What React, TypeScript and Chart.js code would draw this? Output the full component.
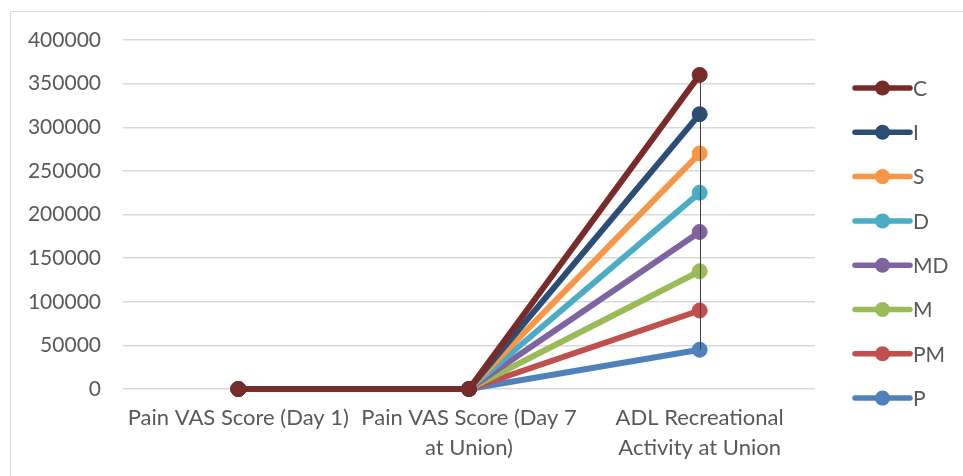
import React, { useEffect, useRef } from "react";
import { Chart, registerables } from "chart.js";

Chart.register(...registerables);

const categories: string[][] = [
  ["Pain VAS Score (Day 1)"],
  ["Pain VAS Score (Day 7", "at Union)"],
  ["ADL Recreational", "Activity at Union"],
];

const seriesNames = ["C", "I", "S", "D", "MD", "M", "PM", "P"];
const seriesColors = ["#772C2A", "#2C4D75", "#F79646", "#4BACC6", "#8064A2", "#9BBB59", "#C0504D", "#4F81BD"];

const valuesC = [0, 0, 360000];
const valuesI = [0, 0, 315000];
const valuesS = [0, 0, 270000];
const valuesD = [0, 0, 225000];
const valuesMD = [0, 0, 180000];
const valuesM = [0, 0, 135000];
const valuesPM = [0, 0, 90000];
const valuesP = [0, 0, 45000];

const seriesValues = [valuesC, valuesI, valuesS, valuesD, valuesMD, valuesM, valuesPM, valuesP];

const yMin = 0;
const yMax = 400000;
const yStep = 50000;

const FONT = "Lato, 'Liberation Sans', sans-serif";
const TEXT = "#595959";

const W = 963;
const H = 476;

const frame = {
  id: "frame",
  beforeDraw(chart: any) {
    const ctx = chart.ctx;
    ctx.save();
    ctx.fillStyle = "#ffffff";
    ctx.fillRect(0, 0, chart.width, chart.height);
    ctx.strokeStyle = "#d9d9d9";
    ctx.lineWidth = 1;
    ctx.beginPath();
    ctx.moveTo(10.5, chart.height);
    ctx.lineTo(10.5, 11.5);
    ctx.lineTo(chart.width, 11.5);
    ctx.stroke();
    ctx.restore();
  },
};

const hiLo = {
  id: "hiLo",
  afterDatasetsDraw(chart: any) {
    const ctx = chart.ctx;
    const xs = chart.scales.x;
    const ys = chart.scales.y;
    ctx.save();
    ctx.strokeStyle = "#404040";
    ctx.lineWidth = 1;
    for (let i = 0; i < categories.length; i++) {
      const vals = seriesValues.map((s) => s[i]);
      const hi = Math.max(...vals);
      const lo = Math.min(...vals);
      if (hi === lo) continue;
      const x = Math.round(xs.getPixelForValue(i)) + 0.5;
      ctx.beginPath();
      ctx.moveTo(x, ys.getPixelForValue(hi));
      ctx.lineTo(x, ys.getPixelForValue(lo));
      ctx.stroke();
    }
    ctx.restore();
  },
};

const sideLegend = {
  id: "sideLegend",
  afterDraw(chart: any) {
    const ctx = chart.ctx;
    const area = chart.chartArea;
    const x0 = area.right + 40;
    const lineLen = 55;
    const top = 88;
    const gap = 44.3;
    ctx.save();
    ctx.font = `21px ${FONT}`;
    ctx.textBaseline = "middle";
    ctx.textAlign = "left";
    seriesNames.forEach((name, i) => {
      const y = top + i * gap;
      const c = seriesColors[i];
      ctx.strokeStyle = c;
      ctx.lineWidth = 5.5;
      ctx.lineCap = "round";
      ctx.beginPath();
      ctx.moveTo(x0, y);
      ctx.lineTo(x0 + lineLen, y);
      ctx.stroke();
      ctx.fillStyle = c;
      ctx.beginPath();
      ctx.arc(x0 + lineLen / 2, y, 7.5, 0, Math.PI * 2);
      ctx.fill();
      ctx.fillStyle = TEXT;
      ctx.fillText(name, x0 + lineLen + 3, y + 1);
    });
    ctx.restore();
  },
};

export default function App() {
  const ref = useRef<HTMLCanvasElement | null>(null);

  useEffect(() => {
    if (!ref.current) return;
    const chart = new Chart(ref.current, {
      type: "line",
      data: {
        labels: categories,
        datasets: seriesNames.map((name, i) => ({
          label: name,
          data: seriesValues[i],
          borderColor: seriesColors[i],
          backgroundColor: seriesColors[i],
          borderWidth: 6,
          pointRadius: 7.5,
          pointBorderWidth: 1,
          pointBackgroundColor: seriesColors[i],
          pointBorderColor: seriesColors[i],
          tension: 0,
          fill: false,
          clip: false as any,
        })),
      },
      options: {
        animation: false,
        responsive: false,
        devicePixelRatio: 1,
        layout: { padding: { left: 10, top: 40, right: 148, bottom: 0 } },
        plugins: {
          legend: { display: false },
          tooltip: { enabled: false },
        },
        scales: {
          x: {
            offset: true,
            grid: { display: false, drawTicks: false },
            border: { display: false },
            ticks: {
              color: TEXT,
              font: { family: FONT, size: 22, lineHeight: 1.36 },
              padding: 14,
              maxRotation: 0,
              autoSkip: false,
            },
            afterFit(scale: any) {
              scale.height = 87;
            },
          },
          y: {
            min: yMin,
            max: yMax,
            grid: { color: "#d9d9d9", lineWidth: 1.5, drawTicks: false },
            border: { display: false },
            ticks: {
              stepSize: yStep,
              color: TEXT,
              font: { family: FONT, size: 21 },
              padding: 22,
              callback: (v: any) => String(v),
            },
            afterFit(scale: any) {
              scale.width = 113;
            },
          },
        },
      },
      plugins: [frame, hiLo, sideLegend],
    });
    return () => chart.destroy();
  }, []);

  return (
    <div style={{ position: "fixed", left: 0, top: 0, width: W, height: H, background: "#fff" }}>
      <canvas ref={ref} width={W} height={H} style={{ display: "block", width: W, height: H }} />
    </div>
  );
}
